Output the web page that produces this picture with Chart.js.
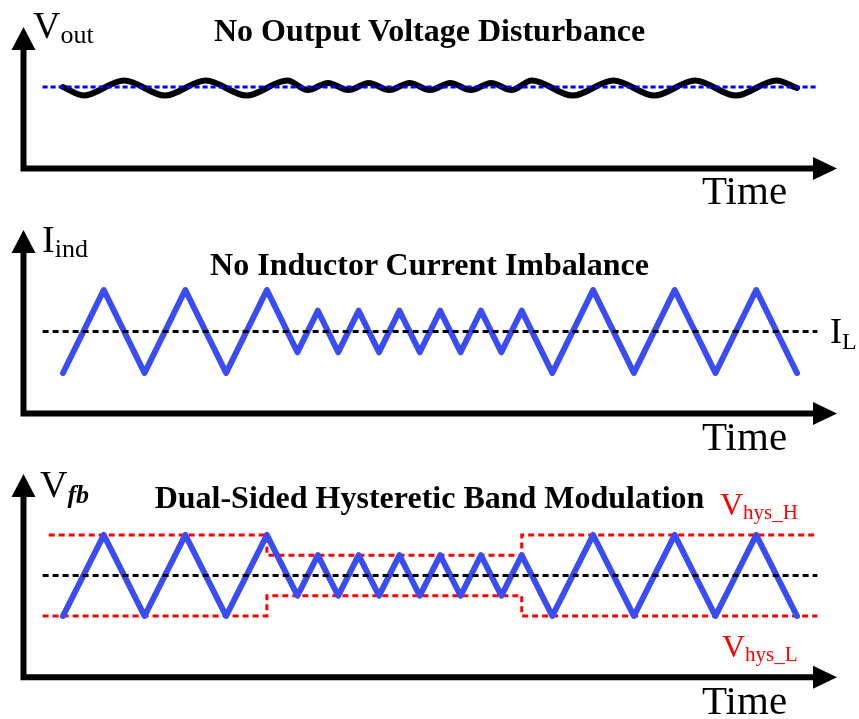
<!DOCTYPE html>
<html>
<head>
<meta charset="utf-8">
<title>Dual-Sided Hysteretic Band Modulation</title>
<script src="https://cdn.jsdelivr.net/npm/chart.js@4/dist/chart.umd.min.js"></script>
<style>
  html, body { margin: 0; padding: 0; background: #fff; }
  #wrap { position: relative; width: 859px; height: 719px; overflow: hidden; }
  canvas { position: absolute; left: 0; }
  .lbl { position: absolute; font-family: 'Liberation Serif', 'Times New Roman', serif; line-height: 1; white-space: nowrap; color: #000; }
  .lbl .sub { position: relative; }
  .title { left: 0; width: 859px; text-align: center; font-weight: bold; font-size: 32px; }
  .time { left: 702px; font-size: 41px; }
  .red { color: #ff0000; }
</style>
</head>
<body>
<div id="wrap">
  <canvas id="cVout" width="859" height="215" style="top:0"></canvas>
  <canvas id="cInd" width="859" height="250" style="top:215px"></canvas>
  <canvas id="cFb" width="859" height="254" style="top:465px"></canvas>

  <div class="lbl title" style="top:13.7px">No Output Voltage Disturbance</div>
  <div class="lbl title" style="top:248px">No Inductor Current Imbalance</div>
  <div class="lbl title" style="top:481px">Dual-Sided Hysteretic Band Modulation</div>

  <div class="lbl time" style="top:170px">Time</div>
  <div class="lbl time" style="top:415.7px">Time</div>
  <div class="lbl time" style="top:679.7px">Time</div>

  <div class="lbl" style="left:33px;top:6px;font-size:38px">V<span class="sub" style="font-size:26px;top:5px">out</span></div>
  <div class="lbl" style="left:42px;top:220px;font-size:38px">I<span class="sub" style="font-size:26px;top:5px">ind</span></div>
  <div class="lbl" style="left:40px;top:465px;font-size:38px">V<span class="sub" style="font-size:26px;top:6px;font-weight:bold;font-style:italic">fb</span></div>
  <div class="lbl" style="left:830px;top:313px;font-size:36px">I<span class="sub" style="font-size:24px;top:6px">L</span></div>
  <div class="lbl red" style="left:720px;top:488px;font-size:32px">V<span class="sub" style="font-size:21px;top:4px">hys_H</span></div>
  <div class="lbl red" style="left:722px;top:630px;font-size:32px">V<span class="sub" style="font-size:21px;top:4px">hys_L</span></div>
</div>

<script>
// Time base shared by all three traces (one unit = half of the short switching period)
const refSpan = [-1, 37];

// Output voltage ripple around its reference (turning points of the waveform)
const rippleTime = [0, 1, 3, 5, 7, 9, 11, 12, 13, 14, 15, 16, 17, 18, 19, 20, 21, 22, 23, 25, 27, 29, 31, 33, 35, 36];
const rippleVout = [0, -8.5, 6.5, -8.5, 6.5, -8.5, 6.5, -3, 4, -3, 4, -3, 4, -3, 4, -3, 4, -3, 6.5, -8.5, 6.5, -8.5, 6.5, -8.5, 6.5, -1];

// Inductor current triangle (normalised to the wide band), vertices
const triTime = [0, 2, 4, 6, 8, 10, 11.5, 12.5, 13.5, 14.5, 15.5, 16.5, 17.5, 18.5, 19.5, 20.5, 21.5, 22.5, 24, 26, 28, 30, 32, 34, 36];
const iInd    = [-1, 1, -1, 1, -1, 1, -0.5, 0.5, -0.5, 0.5, -0.5, 0.5, -0.5, 0.5, -0.5, 0.5, -0.5, 0.5, -1, 1, -1, 1, -1, 1, -1];

// Feedback voltage triangle, same vertices
const vFb     = [-1, 1, -1, 1, -1, 1, -0.5, 0.5, -0.5, 0.5, -0.5, 0.5, -0.5, 0.5, -0.5, 0.5, -0.5, 0.5, -1, 1, -1, 1, -1, 1, -1];

// Hysteretic thresholds: wide band, narrowed band, wide band again
const bandHighTime = [-0.7, 10, 10, 22.5, 22.5, 37];
const bandHigh     = [1, 1, 0.5, 0.5, 1, 1];
const bandLowTime  = [-1, 10, 10, 22.5, 22.5, 37];
const bandLow      = [-1, -1, -0.5, -0.5, -1, -1];

const pts = (xs, ys) => xs.map((x, i) => ({ x, y: ys[i] }));
const flat = (xs, v) => xs.map(x => ({ x, y: v }));

const BLUE = '#3a4cf4';

// Axis lines with arrow heads along the left and bottom of the plot area
const axisArrows = {
  id: 'axisArrows',
  afterDatasetsDraw(chart) {
    const { ctx, chartArea: a } = chart;
    ctx.save();
    ctx.strokeStyle = '#000';
    ctx.fillStyle = '#000';
    ctx.lineWidth = 6;
    ctx.lineJoin = 'miter';
    ctx.lineCap = 'butt';
    ctx.beginPath();
    ctx.moveTo(a.left, a.top + 20);
    ctx.lineTo(a.left, a.bottom);
    ctx.lineTo(a.right - 20, a.bottom);
    ctx.stroke();
    ctx.beginPath();
    ctx.moveTo(a.left, a.top);
    ctx.lineTo(a.left - 12, a.top + 23);
    ctx.lineTo(a.left + 12, a.top + 23);
    ctx.closePath();
    ctx.fill();
    ctx.beginPath();
    ctx.moveTo(a.right, a.bottom);
    ctx.lineTo(a.right - 24, a.bottom - 11.5);
    ctx.lineTo(a.right - 24, a.bottom + 11.5);
    ctx.closePath();
    ctx.fill();
    ctx.restore();
  }
};

const X_MIN = -1.937, X_MAX = 37.962;

function makeChart(id, datasets, yMin, yMax, padding) {
  return new Chart(document.getElementById(id), {
    type: 'line',
    data: { datasets },
    options: {
      responsive: false,
      animation: false,
      devicePixelRatio: 1,
      layout: { padding },
      elements: { point: { radius: 0, hoverRadius: 0 } },
      plugins: { legend: { display: false }, tooltip: { enabled: false }, title: { display: false } },
      events: [],
      scales: {
        x: { type: 'linear', display: false, min: X_MIN, max: X_MAX },
        y: { type: 'linear', display: false, min: yMin, max: yMax }
      }
    },
    plugins: [axisArrows]
  });
}

// Panel 1: output voltage
makeChart('cVout', [
  { data: flat(refSpan, 0), borderColor: '#0000ff', borderWidth: 3, borderDash: [5, 3], fill: false },
  { data: pts(rippleTime, rippleVout), borderColor: '#000', borderWidth: 6, fill: false,
    cubicInterpolationMode: 'monotone', tension: 0.4, borderCapStyle: 'round', borderJoinStyle: 'round' }
], -81.5, 60, { left: 23.5, right: 22, top: 27, bottom: 46.5 });

// Panel 2: inductor current
makeChart('cInd', [
  { data: flat(refSpan, 0), borderColor: '#000', borderWidth: 3, borderDash: [6, 4], fill: false },
  { data: pts(triTime, iInd), borderColor: BLUE, borderWidth: 6, fill: false,
    borderCapStyle: 'round', borderJoinStyle: 'round' }
], -1.976, 2.446, { left: 23.5, right: 22, top: 15, bottom: 51.5 });

// Panel 3: feedback voltage inside the hysteretic band
makeChart('cFb', [
  { data: flat(refSpan, 0), borderColor: '#000', borderWidth: 3, borderDash: [6, 4], fill: false },
  { data: pts(triTime, vFb), borderColor: BLUE, borderWidth: 6, fill: false,
    borderCapStyle: 'round', borderJoinStyle: 'round' },
  { data: pts(bandHighTime, bandHigh), borderColor: '#ff0000', borderWidth: 3, borderDash: [6, 4], fill: false },
  { data: pts(bandLowTime, bandLow), borderColor: '#ff0000', borderWidth: 3, borderDash: [6, 4], fill: false }
], -2.514, 2.506, { left: 23.5, right: 22, top: 9, bottom: 41.7 });
</script>
</body>
</html>
